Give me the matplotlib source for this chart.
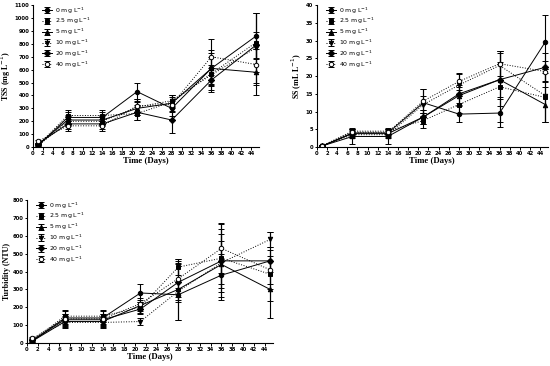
import matplotlib.pyplot as plt
import numpy as np

days = [1, 7, 14, 21, 28, 36, 45]
labels = ['0 mg L$^{-1}$', '2.5 mg L$^{-1}$', '5 mg L$^{-1}$',
          '10 mg L$^{-1}$', '20 mg L$^{-1}$', '40 mg L$^{-1}$']
markers = ['o', 's', '^', 'v', 'D', 'o']
styles = ['-', ':', '-', ':', '-', ':']
fills = ['black', 'black', 'black', 'black', 'black', 'white']

# TSS (mg/L)
tss = [
    [10, 230, 230, 430, 300, 610, 860],
    [15, 245, 245, 260, 350, 570, 810],
    [20, 210, 210, 300, 340, 610, 580],
    [10, 200, 200, 310, 360, 560, 770],
    [25, 180, 180, 270, 210, 520, 790],
    [45, 165, 165, 320, 330, 700, 640],
]
tss_err = [
    [10, 40, 40, 70, 60, 120, 180],
    [10, 40, 40, 50, 50, 130, 230],
    [10, 40, 40, 50, 60, 140, 180],
    [10, 40, 40, 60, 40, 80, 270],
    [10, 40, 40, 60, 100, 90, 100],
    [10, 40, 40, 50, 60, 140, 160],
]

# SS (mL/L)
ss = [
    [0.3, 4.0, 4.0, 12.5, 9.3, 9.6, 29.6],
    [0.3, 4.5, 4.5, 7.5, 12.0, 17.0, 14.0],
    [0.3, 3.0, 3.0, 8.5, 14.5, 19.0, 12.0],
    [0.3, 3.5, 3.5, 12.0, 17.5, 23.0, 14.5],
    [0.3, 3.8, 3.8, 8.5, 15.0, 19.0, 22.5],
    [0.4, 4.2, 4.2, 13.0, 18.5, 23.5, 21.3],
]
ss_err = [
    [0.3, 1.0, 1.0, 3.8, 2.2, 4.0, 7.5],
    [0.3, 0.8, 0.8, 2.0, 2.5, 10.0, 7.0],
    [0.3, 2.0, 2.0, 2.0, 2.5, 7.5, 5.0],
    [0.3, 1.0, 1.0, 2.5, 3.0, 4.0, 7.5],
    [0.3, 1.0, 1.0, 2.0, 2.5, 5.0, 4.0],
    [0.3, 0.8, 0.8, 3.5, 2.5, 3.5, 3.0],
]

# Turbidity (NTU)
turb = [
    [10, 140, 140, 280, 270, 380, 460],
    [15, 150, 150, 200, 425, 475, 385],
    [10, 120, 120, 210, 300, 440, 300],
    [20, 115, 115, 120, 290, 450, 580],
    [15, 130, 130, 190, 340, 460, 460],
    [25, 135, 135, 220, 360, 530, 410],
]
turb_err = [
    [8, 45, 45, 50, 40, 120, 160],
    [8, 30, 30, 30, 45, 190, 150],
    [8, 30, 30, 30, 170, 200, 160],
    [8, 30, 30, 20, 160, 120, 40],
    [8, 30, 30, 30, 100, 150, 60],
    [8, 30, 30, 30, 100, 140, 80],
]

serif = ['Liberation Serif', 'DejaVu Serif']

fig = plt.figure(figsize=(5.5, 3.66), dpi=100)
ax1 = fig.add_axes([0.06, 0.598, 0.41, 0.388])
ax2 = fig.add_axes([0.576, 0.598, 0.42, 0.388])
ax3 = fig.add_axes([0.049, 0.063, 0.447, 0.39])


def panel(ax, data, err, ylim, ystep, ylabel):
    for i in range(6):
        ax.errorbar(days, data[i], yerr=err[i], color='black', lw=0.7,
                    ls=styles[i], marker=markers[i], ms=3.2,
                    mfc=fills[i], mec='black', mew=0.7,
                    elinewidth=0.8, capsize=2, capthick=0.8,
                    label=labels[i])
    ax.set_xlim(0, 45.5)
    ax.set_ylim(0, ylim)
    ax.set_xticks(np.arange(0, 45, 2))
    ax.set_yticks(np.arange(0, ylim + 0.01, ystep))
    ax.tick_params(labelsize=3.8, length=1.8, width=0.7, pad=0.8)
    for t in ax.get_xticklabels() + ax.get_yticklabels():
        t.set_fontweight('bold')
    ax.spines['top'].set_visible(False)
    ax.spines['right'].set_visible(False)
    for s in ['left', 'bottom']:
        ax.spines[s].set_linewidth(0.8)
    ax.set_xlabel('Time (Days)', family=serif, fontweight='bold',
                  fontsize=6.3, labelpad=1)
    ax.set_ylabel(ylabel, family=serif, fontweight='bold', fontsize=5.8,
                  labelpad=1)
    ax.legend(loc='upper left', bbox_to_anchor=(0.02, 1.03), frameon=False,
              fontsize=4.5, handlelength=1.6, labelspacing=0.08,
              handletextpad=0.5, borderpad=0.2)


panel(ax1, tss, tss_err, 1100, 100, 'TSS (mg L$^{-1}$)')
panel(ax2, ss, ss_err, 40, 5, 'SS (mL L$^{-1}$)')
panel(ax3, turb, turb_err, 800, 100, 'Turbidity (NTU)')

plt.savefig('out.png', dpi=100)
